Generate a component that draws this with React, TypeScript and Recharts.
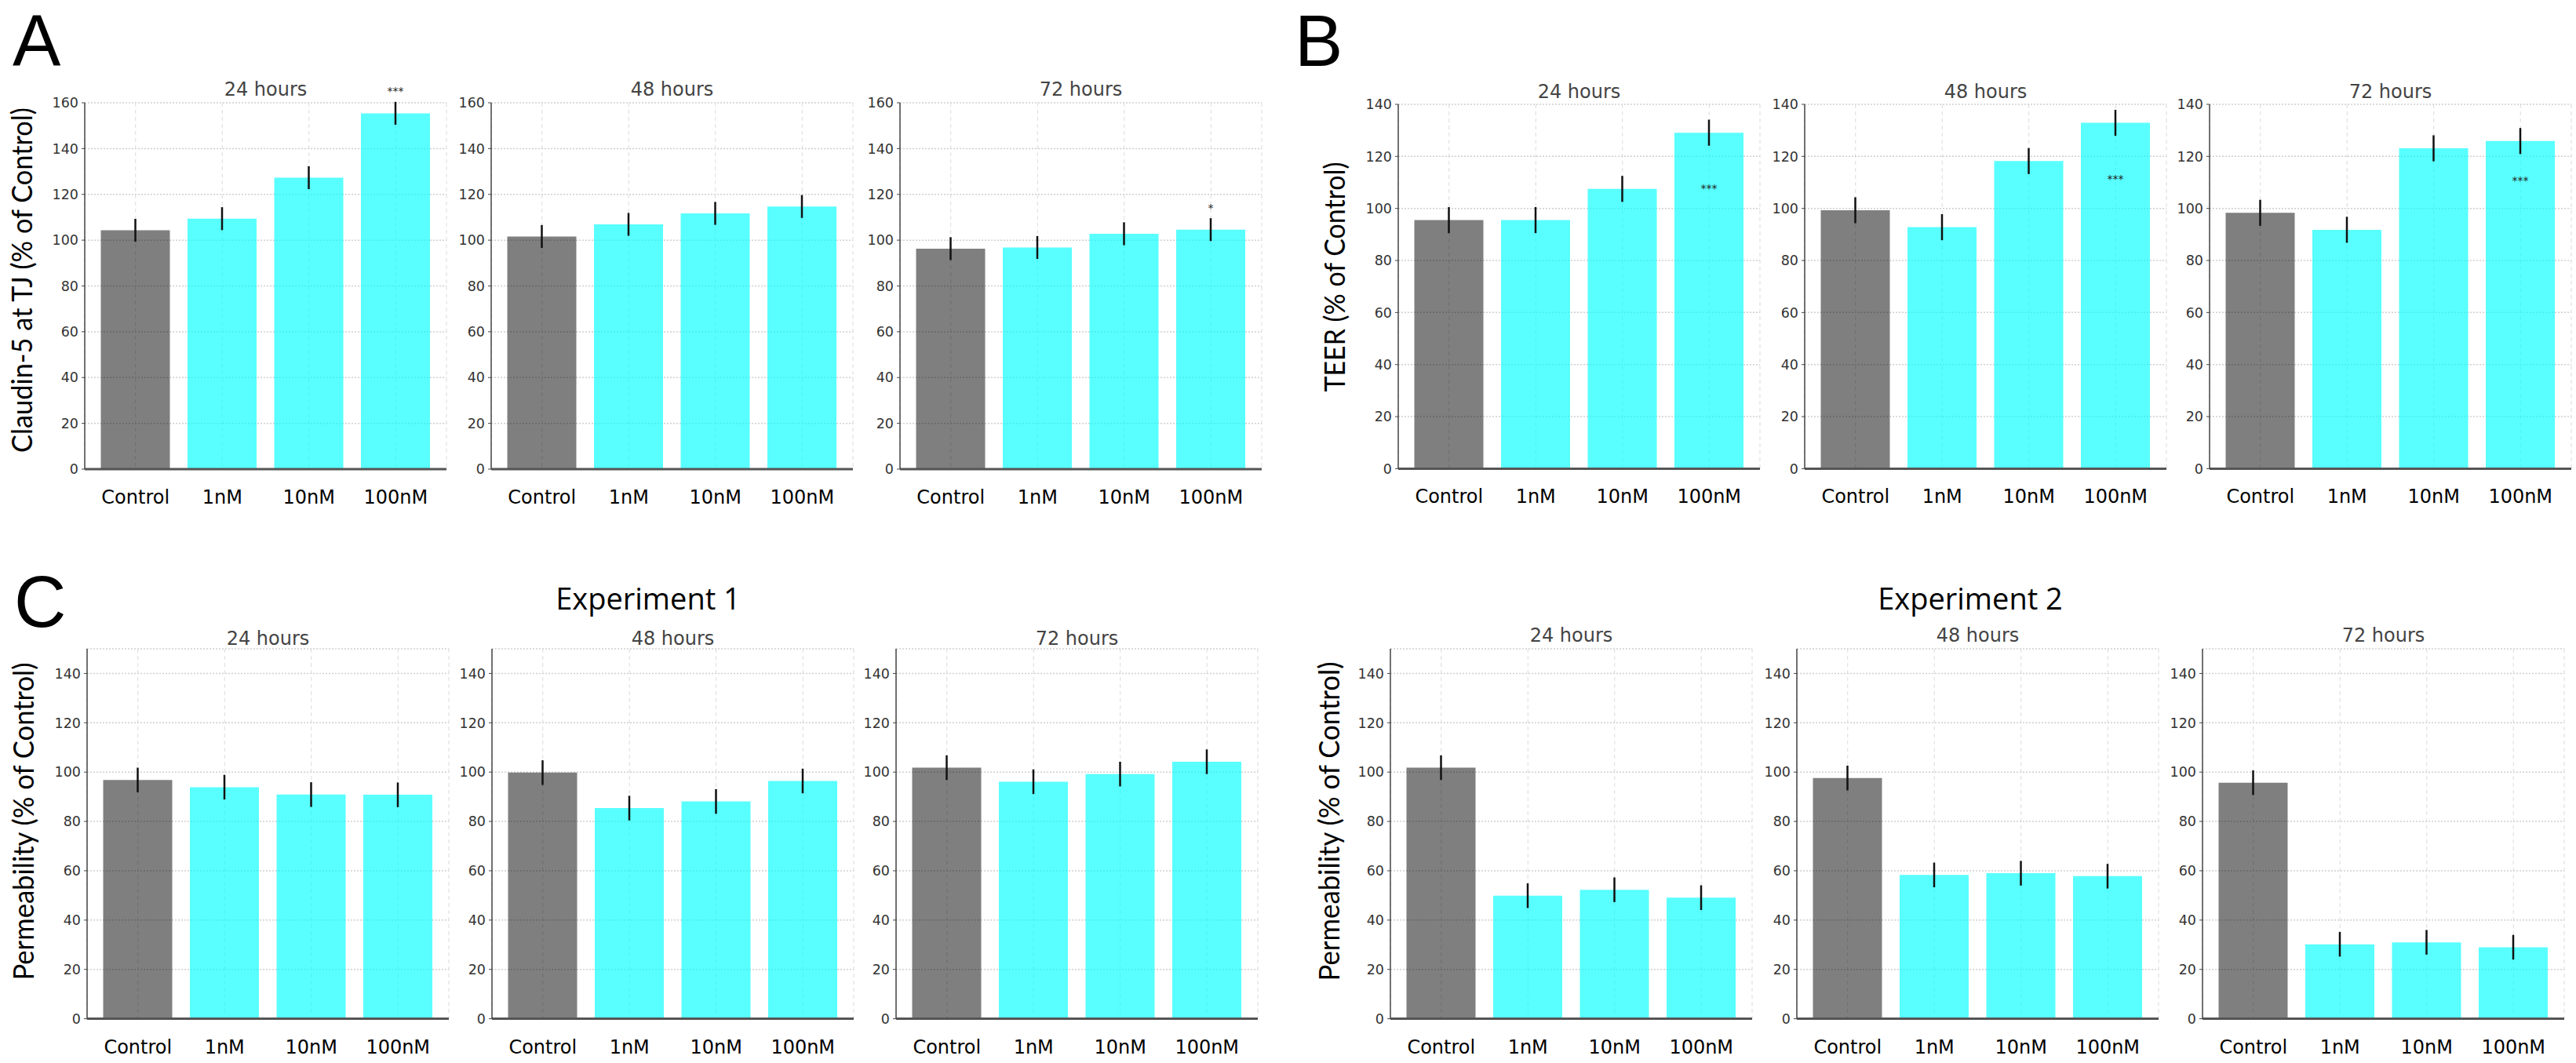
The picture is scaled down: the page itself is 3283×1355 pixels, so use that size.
import { BarChart, Bar, XAxis, YAxis, CartesianGrid, Cell, ErrorBar, LabelList } from 'recharts';

const doses = ['Control', '1nM', '10nM', '100nM'];
const sem = [5, 5, 5, 5];

// Claudin-5 at TJ (% of Control)
const claudin24 = [104.3, 109.4, 127.3, 155.4];
const claudin48 = [101.6, 106.9, 111.7, 114.7];
const claudin72 = [96.3, 96.8, 102.8, 104.6];
const claudin24Sig = [null, null, null, 165.0];
const claudin72Sig = [null, null, null, 114.2];

// TEER (% of Control)
const teer24 = [95.5, 95.5, 107.5, 129.1];
const teer48 = [99.3, 92.8, 118.2, 132.9];
const teer72 = [98.3, 91.8, 123.1, 125.9];
const teer24Sig = [null, null, null, 107.8];
const teer48Sig = [null, null, null, 111.4];
const teer72Sig = [null, null, null, 110.9];

// Permeability (% of Control)
const exp1h24 = [96.8, 93.9, 90.9, 90.8];
const exp1h48 = [99.8, 85.4, 88.1, 96.4];
const exp1h72 = [101.8, 96.1, 99.2, 104.2];
const exp2h24 = [101.8, 49.9, 52.3, 49.1];
const exp2h48 = [97.6, 58.3, 59.0, 57.8];
const exp2h72 = [95.7, 30.2, 31.0, 29.0];

const claudinTicks = [0, 20, 40, 60, 80, 100, 120, 140, 160];
const teerTicks = [0, 20, 40, 60, 80, 100, 120, 140];
const permTicks = [0, 20, 40, 60, 80, 100, 120, 140];

const PLOT_W = 461;
const Y_W = 60;
const TOP_PAD = 40;
const X_H = 70;
const TICK_FONT = '"DejaVu Sans", sans-serif';

type SubplotProps = {
  axisX: number;
  plotTop: number;
  plotH: number;
  values: number[];
  sig?: (number | null)[];
  sigText?: string;
  max: number;
  ticks: number[];
};

function Subplot({ axisX, plotTop, plotH, values, sig, sigText, max, ticks }: SubplotProps) {
  const data = doses.map((dose, i) => ({ dose, value: values[i], err: sem[i] }));

  // star position comes from its value, using the bar's own pixel scale
  const renderSig = (props: any) => {
    const { x, y, width, height, index } = props;
    const s = sig?.[index];
    if (s == null) return null;
    const pxPerUnit = height / values[index];
    const sy = y + height - s * pxPerUnit;
    return (
      <text x={x + width / 2} y={sy} textAnchor="middle" dominantBaseline="central" fontSize={14} fill="#222" fontFamily={TICK_FONT}>
        {sigText}
      </text>
    );
  };

  return (
    <div style={{ position: 'absolute', left: axisX - Y_W, top: plotTop - TOP_PAD }}>
      <BarChart
        width={Y_W + PLOT_W + 10}
        height={TOP_PAD + plotH + X_H}
        data={data}
        margin={{ top: TOP_PAD, right: 10, left: 0, bottom: 0 }}
        barSize={88}
      >
        <CartesianGrid horizontal={false} strokeDasharray="5 4" stroke="#dcdcdc" />
        <CartesianGrid vertical={false} strokeDasharray="2 2" stroke="#cfcfcf" strokeWidth={1.5} />
        <XAxis
          dataKey="dose"
          padding={{ left: 9.5, right: 9.5 }}
          height={X_H}
          tickLine={false}
          tickSize={0}
          tickMargin={27}
          axisLine={{ stroke: '#555', strokeWidth: 3 }}
          tick={{ fill: '#000', fontSize: 24, fontFamily: TICK_FONT }}
          interval={0}
        />
        <YAxis
          width={Y_W}
          domain={[0, max]}
          ticks={ticks}
          allowDataOverflow
          tickSize={4}
          tickMargin={4}
          axisLine={{ stroke: '#444', strokeWidth: 1.5 }}
          tickLine={{ stroke: '#444' }}
          tick={{ fill: '#333', fontSize: 17.5, fontFamily: TICK_FONT }}
        />
        <Bar dataKey="value" isAnimationActive={false}>
          {data.map((d, i) => (
            <Cell key={d.dose} fill={i === 0 ? '#000' : '#00ffff'} fillOpacity={i === 0 ? 0.5 : 0.65} />
          ))}
          <ErrorBar dataKey="err" width={0} strokeWidth={2.5} stroke="#111" />
          {sig && <LabelList dataKey="value" content={renderSig} />}
        </Bar>
      </BarChart>
    </div>
  );
}

const aX = [108, 626, 1147];
const bX = [1782, 2300, 2816];
const c1X = [111, 627, 1142];
const c2X = [1772, 2290, 2807];
const hours = ['24 hours', '48 hours', '72 hours'];

const A = { top: 130.7, h: 467 };
const B = { top: 133.3, h: 464.4 };
const C = { top: 826.7, h: 471.6 };

export default function App() {
  const titleStyle = { fontFamily: TICK_FONT, fontSize: 24, fill: '#444' } as const;
  const bigLetter = { fontFamily: '"Liberation Sans", Arial, sans-serif', fontSize: 92, fill: '#000' } as const;
  const yLabel = { fontFamily: 'Lato, "Open Sans", sans-serif', fontSize: 36, fill: '#000', lengthAdjust: 'spacingAndGlyphs' } as const;

  return (
    <div style={{ position: 'relative', width: 3283, height: 1355, background: '#fff', overflow: 'hidden' }}>
      <style>{'body{margin:0}'}</style>

      <Subplot axisX={aX[0]} plotTop={A.top} plotH={A.h} values={claudin24} sig={claudin24Sig} sigText="***" max={160} ticks={claudinTicks} />
      <Subplot axisX={aX[1]} plotTop={A.top} plotH={A.h} values={claudin48} max={160} ticks={claudinTicks} />
      <Subplot axisX={aX[2]} plotTop={A.top} plotH={A.h} values={claudin72} sig={claudin72Sig} sigText="*" max={160} ticks={claudinTicks} />

      <Subplot axisX={bX[0]} plotTop={B.top} plotH={B.h} values={teer24} sig={teer24Sig} sigText="***" max={140} ticks={teerTicks} />
      <Subplot axisX={bX[1]} plotTop={B.top} plotH={B.h} values={teer48} sig={teer48Sig} sigText="***" max={140} ticks={teerTicks} />
      <Subplot axisX={bX[2]} plotTop={B.top} plotH={B.h} values={teer72} sig={teer72Sig} sigText="***" max={140} ticks={teerTicks} />

      <Subplot axisX={c1X[0]} plotTop={C.top} plotH={C.h} values={exp1h24} max={150} ticks={permTicks} />
      <Subplot axisX={c1X[1]} plotTop={C.top} plotH={C.h} values={exp1h48} max={150} ticks={permTicks} />
      <Subplot axisX={c1X[2]} plotTop={C.top} plotH={C.h} values={exp1h72} max={150} ticks={permTicks} />

      <Subplot axisX={c2X[0]} plotTop={C.top} plotH={C.h} values={exp2h24} max={150} ticks={permTicks} />
      <Subplot axisX={c2X[1]} plotTop={C.top} plotH={C.h} values={exp2h48} max={150} ticks={permTicks} />
      <Subplot axisX={c2X[2]} plotTop={C.top} plotH={C.h} values={exp2h72} max={150} ticks={permTicks} />

      <svg width={3283} height={1355} style={{ position: 'absolute', left: 0, top: 0, pointerEvents: 'none' }}>
        <text x={16} y={84} {...bigLetter}>A</text>
        <text x={1650} y={84} {...bigLetter}>B</text>
        <text x={18} y={799} {...bigLetter}>C</text>

        <text transform="translate(27,357) rotate(-90)" textAnchor="middle" dominantBaseline="central" textLength={440} {...yLabel}>
          Claudin-5 at TJ (% of Control)
        </text>
        <text transform="translate(1700,353) rotate(-90)" textAnchor="middle" dominantBaseline="central" textLength={293} {...yLabel}>
          TEER (% of Control)
        </text>
        <text transform="translate(29,1047) rotate(-90)" textAnchor="middle" dominantBaseline="central" textLength={405} {...yLabel}>
          Permeability (% of Control)
        </text>
        <text transform="translate(1693,1047) rotate(-90)" textAnchor="middle" dominantBaseline="central" textLength={407} {...yLabel}>
          Permeability (% of Control)
        </text>

        {aX.map((x, i) => (
          <text key={`a${i}`} x={x + PLOT_W / 2} y={122} textAnchor="middle" {...titleStyle}>{hours[i]}</text>
        ))}
        {bX.map((x, i) => (
          <text key={`b${i}`} x={x + PLOT_W / 2} y={125} textAnchor="middle" {...titleStyle}>{hours[i]}</text>
        ))}
        {c1X.map((x, i) => (
          <text key={`c1${i}`} x={x + PLOT_W / 2} y={822} textAnchor="middle" {...titleStyle}>{hours[i]}</text>
        ))}
        {c2X.map((x, i) => (
          <text key={`c2${i}`} x={x + PLOT_W / 2} y={818} textAnchor="middle" {...titleStyle}>{hours[i]}</text>
        ))}

        <text x={826} y={777} textAnchor="middle" fontFamily='"Open Sans", sans-serif' fontSize={38} fill="#000">Experiment 1</text>
        <text x={2511} y={777} textAnchor="middle" fontFamily='"Open Sans", sans-serif' fontSize={38} fill="#000">Experiment 2</text>
      </svg>
    </div>
  );
}
